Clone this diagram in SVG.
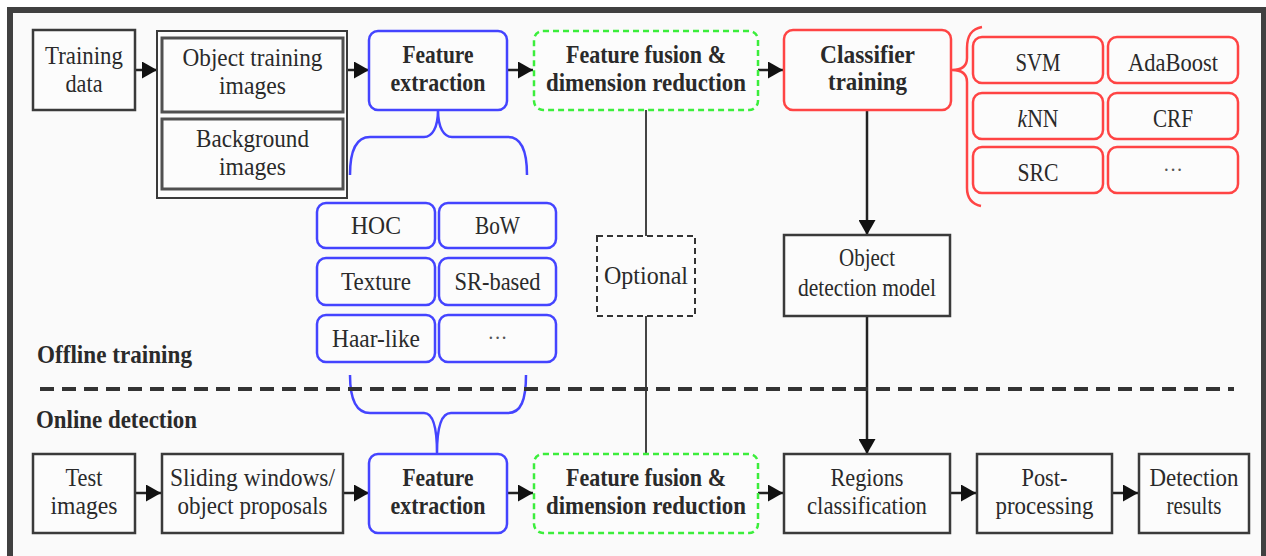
<svg xmlns="http://www.w3.org/2000/svg" width="1266" height="556" viewBox="0 0 1266 556">
  <style>
    .t { font-family: "Liberation Serif", "DejaVu Serif", serif; font-size: 26px; fill: #2a2a2a; text-anchor: middle; }
    .s { font-size: 26px; }
    .b { font-weight: bold; }
    .dots { font-size: 20px; fill: #555; }
    .lab { font-family: "Liberation Serif", "DejaVu Serif", serif; font-size: 25px; font-weight: bold; fill: #2a2a2a; }
    .box { fill: #fcfcfc; stroke: #3a3a3a; stroke-width: 2.5; }
    .inner { fill: #fcfcfc; stroke: #505050; stroke-width: 3; }
    .blue { fill: #fcfcfc; stroke: #4444ff; stroke-width: 2.5; }
    .red { fill: #fcfcfc; stroke: #ff4444; stroke-width: 2.5; }
    .green { fill: #fcfcfc; stroke: #3cee3c; stroke-width: 2.5; stroke-dasharray: 6 4; }
    .opt { fill: #fcfcfc; stroke: #333; stroke-width: 2; stroke-dasharray: 6 4; }
    .arrow { stroke: #222; stroke-width: 2.5; fill: none; marker-end: url(#head); }
    .plain { stroke: #444; stroke-width: 2; fill: none; }
    .brace-b { stroke: #4444ff; stroke-width: 2.5; fill: none; }
    .brace-r { stroke: #ff4444; stroke-width: 2.5; fill: none; }
  </style>
  <defs>
    <marker id="head" markerUnits="userSpaceOnUse" markerWidth="15" markerHeight="17" refX="15" refY="8.5" orient="auto">
      <path d="M0,0 L15,8.5 L0,17 z" fill="#111"/>
    </marker>
  </defs>

  <!-- page and frame -->
  <rect x="0" y="0" width="1266" height="556" fill="#ffffff"/>
  <rect x="13" y="13" width="1248" height="543" fill="#fafafa"/>
  <rect x="7" y="7" width="1259" height="6" fill="#404040"/>
  <rect x="7" y="7" width="6" height="549" fill="#404040"/>
  <rect x="1261" y="7" width="5" height="549" fill="#404040"/>

  <!-- connectors -->
  <g id="connectors">
    <line class="arrow" x1="135" y1="70" x2="157" y2="70"/>
    <line class="arrow" x1="347" y1="70" x2="369" y2="70"/>
    <line class="arrow" x1="507" y1="70" x2="533" y2="70"/>
    <line class="arrow" x1="758" y1="70" x2="783" y2="70"/>
    <line class="arrow" x1="867" y1="110" x2="867" y2="235"/>
    <line class="arrow" x1="867" y1="316" x2="867" y2="454"/>
    <line class="plain" x1="646" y1="110" x2="646" y2="236"/>
    <line class="plain" x1="646" y1="316" x2="646" y2="454"/>
    <line class="arrow" x1="135" y1="493" x2="161" y2="493"/>
    <line class="arrow" x1="343" y1="493" x2="369" y2="493"/>
    <line class="arrow" x1="507" y1="493" x2="533" y2="493"/>
    <line class="arrow" x1="758" y1="493" x2="783" y2="493"/>
    <line class="arrow" x1="950" y1="493" x2="976" y2="493"/>
    <line class="arrow" x1="1112" y1="493" x2="1138" y2="493"/>
    <!-- braces -->
    <path class="brace-b" d="M350,175 C350,150 356,137 370,137 L424,137 C432,137 438,128 438,110 C438,128 444,137 452,137 L508,137 C521,137 527,150 527,175"/>
    <path class="brace-b" d="M350,375 C350,400 356,413 370,413 L424,413 C432,413 437,424 437,453 C437,424 443,413 451,413 L508,413 C521,413 526,400 526,375"/>
    <path class="brace-r" d="M982,27 C971,29 967,36 967,48 L967,58 C967,66 962,70 952,70 C962,70 967,74 967,82 L967,188 C967,198 972,204 981,206"/>
  </g>

  <!-- section labels and divider -->
  <g id="sections">
    <text class="lab" x="37" y="363" textLength="155" lengthAdjust="spacingAndGlyphs">Offline training</text>
    <line x1="40" y1="389" x2="1234" y2="389" stroke="#333" stroke-width="4" stroke-dasharray="14 8"/>
    <text class="lab" x="36" y="428" textLength="161" lengthAdjust="spacingAndGlyphs">Online detection</text>
  </g>

  <!-- offline training row -->
  <g id="training-data">
    <rect class="box" x="33" y="30" width="102" height="80"/>
    <text class="t" x="84" y="64" textLength="78" lengthAdjust="spacingAndGlyphs">Training</text>
    <text class="t" x="84" y="92" textLength="37" lengthAdjust="spacingAndGlyphs">data</text>
  </g>
  <g id="training-images">
    <rect x="157" y="31" width="190" height="167" fill="#fcfcfc" stroke="#3a3a3a" stroke-width="2"/>
    <rect class="inner" x="162" y="38" width="181" height="74"/>
    <text class="t" x="252.5" y="66" textLength="140" lengthAdjust="spacingAndGlyphs">Object training</text>
    <text class="t" x="252.5" y="94" textLength="67" lengthAdjust="spacingAndGlyphs">images</text>
    <rect class="inner" x="162" y="119" width="181" height="70"/>
    <text class="t" x="252.5" y="147" textLength="113" lengthAdjust="spacingAndGlyphs">Background</text>
    <text class="t" x="252.5" y="175" textLength="67" lengthAdjust="spacingAndGlyphs">images</text>
  </g>
  <g id="feature-extraction-train">
    <rect class="blue" x="369" y="31" width="138" height="79" rx="9"/>
    <text class="t b" x="438" y="63" textLength="71" lengthAdjust="spacingAndGlyphs">Feature</text>
    <text class="t b" x="438" y="91" textLength="95" lengthAdjust="spacingAndGlyphs">extraction</text>
  </g>
  <g id="fusion-train">
    <rect class="green" x="534" y="31" width="224" height="79" rx="9"/>
    <text class="t b" x="646" y="63" textLength="160" lengthAdjust="spacingAndGlyphs">Feature fusion &amp;</text>
    <text class="t b" x="646" y="91" textLength="200" lengthAdjust="spacingAndGlyphs">dimension reduction</text>
  </g>
  <g id="classifier-training">
    <rect class="red" x="784" y="30" width="167" height="80" rx="9"/>
    <text class="t b" x="867.5" y="63" textLength="95" lengthAdjust="spacingAndGlyphs">Classifier</text>
    <text class="t b" x="867.5" y="90" textLength="79" lengthAdjust="spacingAndGlyphs">training</text>
  </g>

  <!-- classifier options -->
  <g id="svm"><rect class="red" x="973" y="37" width="130" height="46" rx="9"/><text class="t s" x="1038" y="71" textLength="45" lengthAdjust="spacingAndGlyphs">SVM</text></g>
  <g id="adaboost"><rect class="red" x="1108" y="37" width="130" height="46" rx="9"/><text class="t s" x="1173" y="71" textLength="90" lengthAdjust="spacingAndGlyphs">AdaBoost</text></g>
  <g id="knn"><rect class="red" x="973" y="93" width="130" height="46" rx="9"/><text class="t s" x="1038" y="127" textLength="41" lengthAdjust="spacingAndGlyphs"><tspan font-style="italic">k</tspan>NN</text></g>
  <g id="crf"><rect class="red" x="1108" y="93" width="130" height="46" rx="9"/><text class="t s" x="1173" y="127" textLength="40" lengthAdjust="spacingAndGlyphs">CRF</text></g>
  <g id="src"><rect class="red" x="973" y="147" width="130" height="46" rx="9"/><text class="t s" x="1038" y="181" textLength="41" lengthAdjust="spacingAndGlyphs">SRC</text></g>
  <g id="classifier-more"><rect class="red" x="1108" y="147" width="130" height="46" rx="9"/><text class="t dots" x="1173" y="177">···</text></g>

  <!-- feature options -->
  <g id="hoc"><rect class="blue" x="317" y="203" width="118" height="45" rx="9"/><text class="t s" x="376" y="234" textLength="50" lengthAdjust="spacingAndGlyphs">HOC</text></g>
  <g id="bow"><rect class="blue" x="439" y="203" width="117" height="45" rx="9"/><text class="t s" x="497.5" y="234" textLength="45" lengthAdjust="spacingAndGlyphs">BoW</text></g>
  <g id="texture"><rect class="blue" x="317" y="258" width="118" height="47" rx="9"/><text class="t s" x="376" y="290" textLength="70" lengthAdjust="spacingAndGlyphs">Texture</text></g>
  <g id="sr-based"><rect class="blue" x="439" y="258" width="117" height="47" rx="9"/><text class="t s" x="497.5" y="290" textLength="86" lengthAdjust="spacingAndGlyphs">SR-based</text></g>
  <g id="haar-like"><rect class="blue" x="317" y="315" width="118" height="47" rx="9"/><text class="t s" x="376" y="347" textLength="88" lengthAdjust="spacingAndGlyphs">Haar-like</text></g>
  <g id="feature-more"><rect class="blue" x="439" y="315" width="117" height="47" rx="9"/><text class="t dots" x="497.5" y="345">···</text></g>

  <g id="optional">
    <rect class="opt" x="597" y="236" width="98" height="80"/>
    <text class="t" x="646" y="284" textLength="84" lengthAdjust="spacingAndGlyphs">Optional</text>
  </g>
  <g id="detection-model">
    <rect class="box" x="784" y="235" width="166" height="81"/>
    <text class="t" x="867" y="266" textLength="56" lengthAdjust="spacingAndGlyphs">Object</text>
    <text class="t" x="867" y="296" textLength="138" lengthAdjust="spacingAndGlyphs">detection model</text>
  </g>

  <!-- online detection row -->
  <g id="test-images">
    <rect class="box" x="33" y="454" width="102" height="79"/>
    <text class="t" x="84" y="486" textLength="37" lengthAdjust="spacingAndGlyphs">Test</text>
    <text class="t" x="84" y="514" textLength="67" lengthAdjust="spacingAndGlyphs">images</text>
  </g>
  <g id="sliding-windows">
    <rect class="box" x="162" y="454" width="181" height="79"/>
    <text class="t" x="252.5" y="486" textLength="165" lengthAdjust="spacingAndGlyphs">Sliding windows/</text>
    <text class="t" x="252.5" y="514" textLength="150" lengthAdjust="spacingAndGlyphs">object proposals</text>
  </g>
  <g id="feature-extraction-test">
    <rect class="blue" x="369" y="454" width="138" height="79" rx="9"/>
    <text class="t b" x="438" y="486" textLength="71" lengthAdjust="spacingAndGlyphs">Feature</text>
    <text class="t b" x="438" y="514" textLength="95" lengthAdjust="spacingAndGlyphs">extraction</text>
  </g>
  <g id="fusion-test">
    <rect class="green" x="534" y="454" width="224" height="79" rx="9"/>
    <text class="t b" x="646" y="486" textLength="160" lengthAdjust="spacingAndGlyphs">Feature fusion &amp;</text>
    <text class="t b" x="646" y="514" textLength="200" lengthAdjust="spacingAndGlyphs">dimension reduction</text>
  </g>
  <g id="regions-classification">
    <rect class="box" x="784" y="454" width="166" height="79"/>
    <text class="t" x="867" y="486" textLength="73" lengthAdjust="spacingAndGlyphs">Regions</text>
    <text class="t" x="867" y="514" textLength="120" lengthAdjust="spacingAndGlyphs">classification</text>
  </g>
  <g id="post-processing">
    <rect class="box" x="977" y="454" width="135" height="79"/>
    <text class="t" x="1044.5" y="486" textLength="46" lengthAdjust="spacingAndGlyphs">Post-</text>
    <text class="t" x="1044.5" y="514" textLength="98" lengthAdjust="spacingAndGlyphs">processing</text>
  </g>
  <g id="detection-results">
    <rect class="box" x="1139" y="454" width="110" height="79"/>
    <text class="t" x="1194" y="486" textLength="89" lengthAdjust="spacingAndGlyphs">Detection</text>
    <text class="t" x="1194" y="514" textLength="55" lengthAdjust="spacingAndGlyphs">results</text>
  </g>
</svg>
